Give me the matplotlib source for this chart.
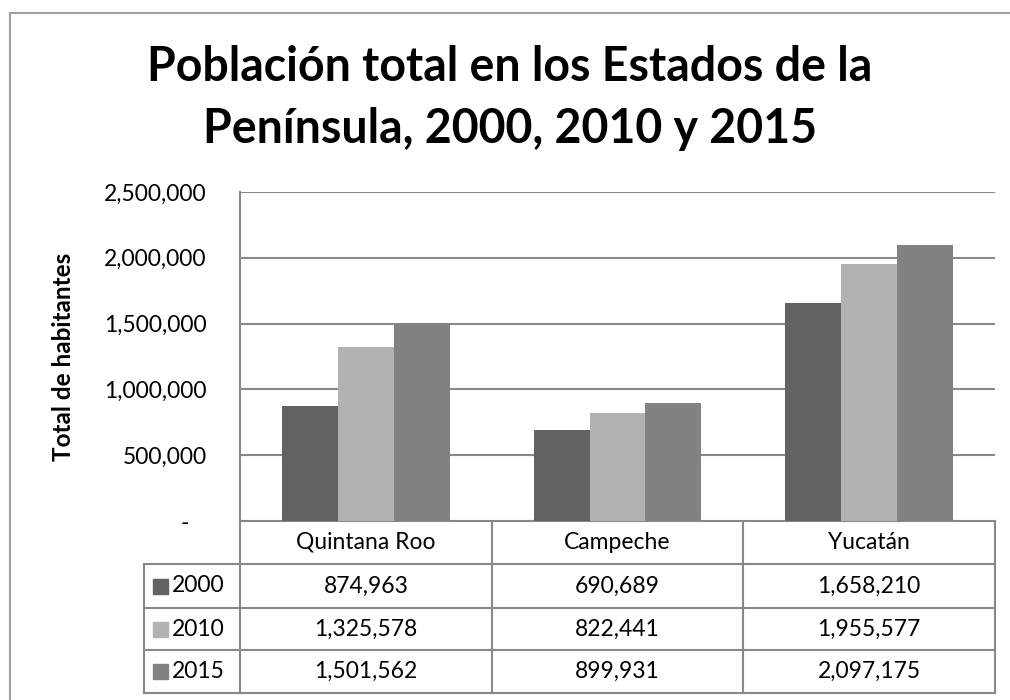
import matplotlib.pyplot as plt
import numpy as np

# datos
estados = ['Quintana Roo', 'Campeche', 'Yucatán']
anios = ['2000', '2010', '2015']
pob_2000 = [874963, 690689, 1658210]
pob_2010 = [1325578, 822441, 1955577]
pob_2015 = [1501562, 899931, 2097175]
colores = ['#626262', '#b2b2b2', '#828282']
yticks = [0, 500000, 1000000, 1500000, 2000000, 2500000]

plt.rcParams['font.family'] = ['Lato', 'DejaVu Sans']

W, H = 1010, 700
fig = plt.figure(figsize=(W / 100, H / 100), dpi=100)


def fx(px):
    return px / W


def fy(py):
    return 1 - py / H


# marco del grafico
fig.add_artist(plt.Line2D([fx(10), fx(10)], [fy(13), fy(700)], color='#a0a0a0', lw=1.5))
fig.add_artist(plt.Line2D([fx(10), fx(1010)], [fy(13), fy(13)], color='#a0a0a0', lw=1.5))

fig.text(0.505, fy(81), 'Población total en los Estados de la', ha='center', va='baseline',
         fontsize=33.5, fontweight='bold')
fig.text(0.505, fy(143), 'Península, 2000, 2010 y 2015', ha='center', va='baseline',
         fontsize=33.5, fontweight='bold')

# barras
ax = fig.add_axes([fx(240), fy(521), fx(995) - fx(240), fy(192) - fy(521)])
series = [pob_2000, pob_2010, pob_2015]
x = np.arange(len(estados))
w = 0.222
for i, vals in enumerate(series):
    ax.bar(x + (i - 1) * w, vals, w, color=colores[i], zorder=3)
ax.set_xlim(-0.5, len(estados) - 0.5)
ax.set_ylim(0, 2500000)
ax.set_yticks(yticks)
ax.set_yticklabels(['-   '] + ['{:,}'.format(v) for v in yticks[1:]], fontsize=16.5)
ax.set_xticks([])
ax.grid(axis='y', color='#888888', lw=1.5, zorder=0)
ax.tick_params(axis='y', length=0, pad=24)
for s in ['top', 'right', 'bottom']:
    ax.spines[s].set_visible(False)
ax.spines['left'].set_color('#888888')
ax.spines['left'].set_linewidth(1.5)
ax.set_ylabel('Total de habitantes', fontsize=17.5, fontweight='bold')
ax.yaxis.set_label_coords((75 - 240) / (995 - 240), 0.5)

# tabla de datos
tx = fig.add_axes([0, 0, 1, 1], zorder=-1)
tx.set_xlim(0, W)
tx.set_ylim(H, 0)
tx.axis('off')
lc = '#888888'
cols = [240, 492, 743, 995]
rows = [521, 564, 608, 650, 693]
for yy in rows:
    x0 = 240 if yy == 521 else 144
    tx.plot([x0, 995], [yy, yy], color=lc, lw=1.5)
tx.plot([144, 144], [564, 693], color=lc, lw=1.5)
for xx in cols:
    tx.plot([xx, xx], [521, 693], color=lc, lw=1.5)
for j, est in enumerate(estados):
    tx.text((cols[j] + cols[j + 1]) / 2, (rows[0] + rows[1]) / 2, est,
            ha='center', va='center', fontsize=16.5)
for i, vals in enumerate(series):
    yc = (rows[i + 1] + rows[i + 2]) / 2
    tx.add_patch(plt.Rectangle((153, yc - 7.5), 15, 15, color=colores[i]))
    tx.text(172, yc, anios[i], ha='left', va='center', fontsize=16.5)
    for j, v in enumerate(vals):
        tx.text((cols[j] + cols[j + 1]) / 2, yc, '{:,}'.format(v),
                ha='center', va='center', fontsize=16.5)

plt.savefig('out.png', dpi=100)
plt.close()
